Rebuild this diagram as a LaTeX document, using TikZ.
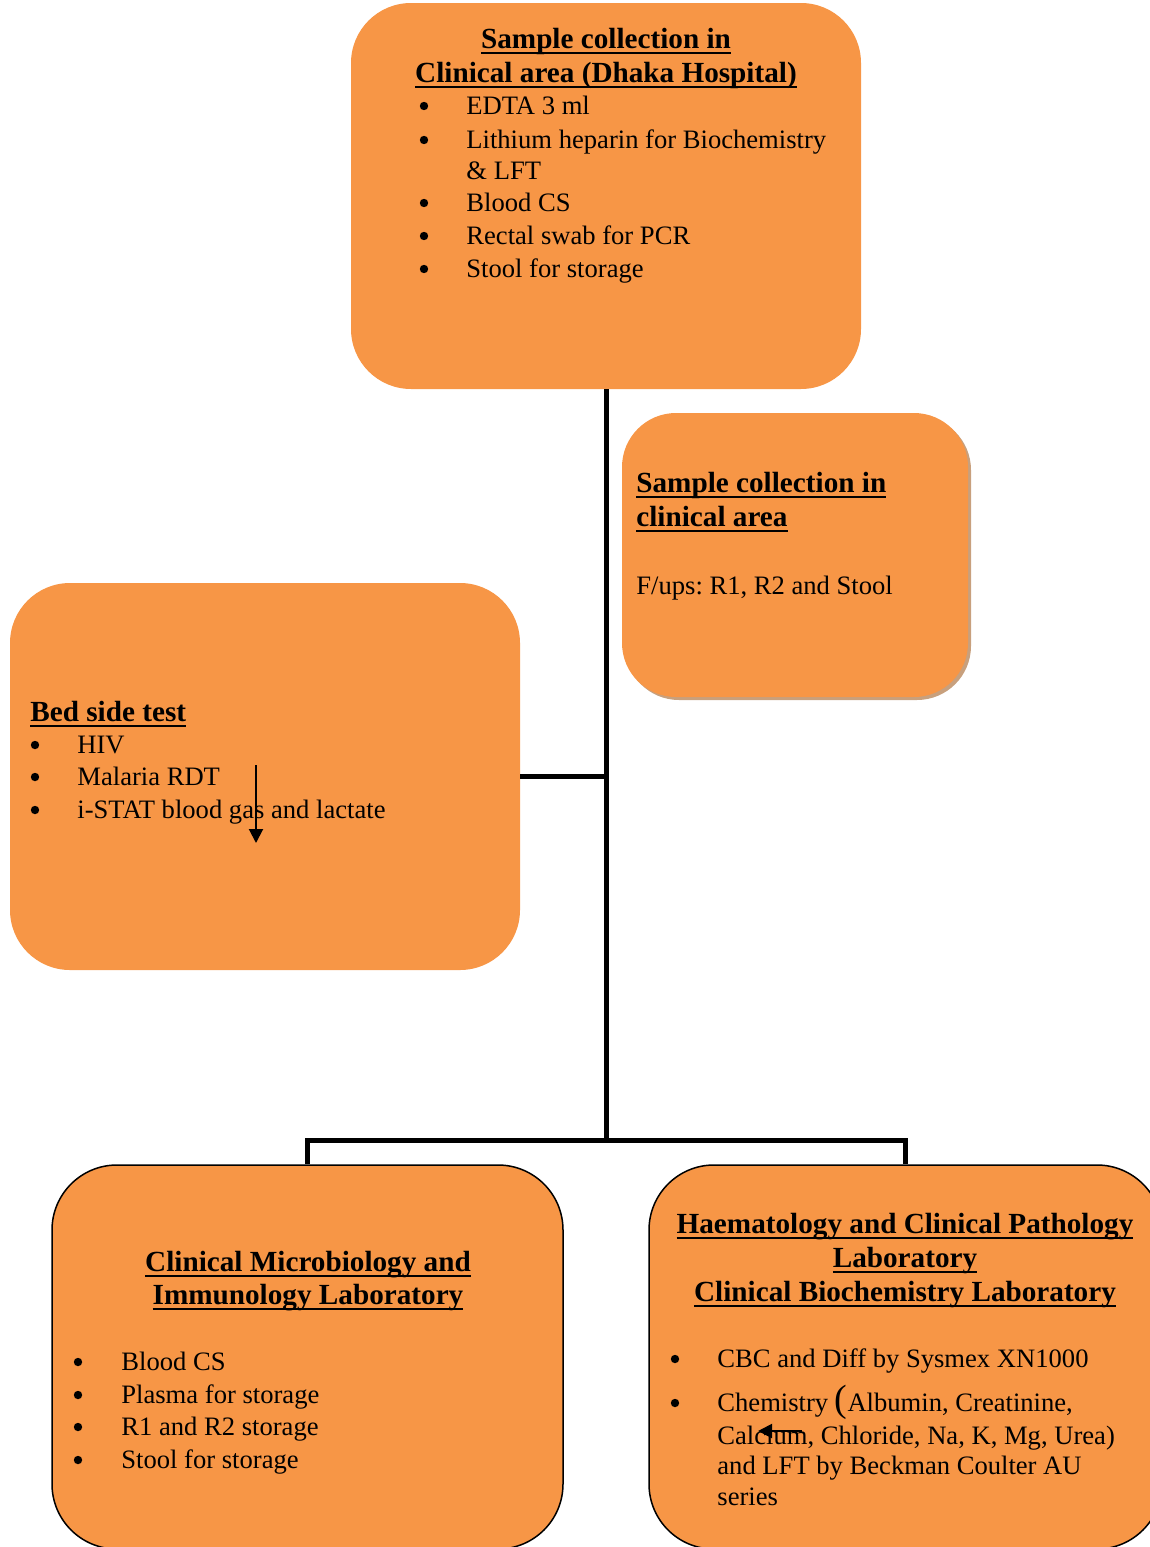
\documentclass[tikz,border=0pt]{standalone}
\usepackage{fontspec}
\setmainfont{Liberation Serif}
\usetikzlibrary{arrows.meta,shadows}
\definecolor{boxorange}{RGB}{247,150,70}
\definecolor{boxshade}{RGB}{200,160,125}
\frenchspacing
% heading text with a heavy underline
\newcommand\headul[1]{\setbox0\hbox{#1}\rlap{\rule[-3pt]{\wd0}{1.2pt}}\box0}

\begin{document}
\begin{tikzpicture}[x=0.5pt,y=-0.5pt,
  panel/.style={fill=boxorange, draw=none, rounded corners=30pt, inner sep=0pt},
  framed/.style={panel, draw=black, line width=0.75pt, rounded corners=32.5pt},
  head/.style={font=\fontsize{14.6}{17}\selectfont\bfseries, anchor=base, inner sep=0pt},
  headwest/.style={head, anchor=base west},
  body/.style={font=\fontsize{13.3}{16}\selectfont, anchor=base west, inner sep=0pt},
  dot/.style={circle, fill=black, minimum size=4.2pt, inner sep=0pt},
  trunk/.style={line width=2.5pt, line join=miter},
  pointer/.style={line width=1pt, -{Triangle[length=7pt,width=7pt]}}]

\clip (0,0) rectangle (1150,1547);

% boxes
\node[panel, minimum width=255pt, minimum height=193pt] (collect) at (606,196) {};
\node[panel, rounded corners=27pt, minimum width=173pt, minimum height=142pt,
      drop shadow={shadow xshift=1.5pt, shadow yshift=-1.5pt, fill=boxshade, opacity=1}] (followup) at (795,555) {};
\node[panel, minimum width=255pt, minimum height=193.5pt] (bedside) at (265,776.5) {};
\node[framed, minimum width=255.5pt, minimum height=192pt] (micro) at (307.5,1357) {};
\node[framed, minimum width=256.5pt, minimum height=192pt] (haem) at (905.5,1357) {};

% connectors
\coordinate (split) at (606,1140);
\draw[trunk] (collect.south) -- (split);
\draw[trunk] (bedside.east) -- (bedside.east -| split);
\draw[trunk] (micro.north) |- (split) -| (haem.north);

% top box text
\node[head] (collect-h1) at (606,48) {\headul{Sample collection in}};
\node[head] (collect-h2) at (606,82) {\headul{Clinical area (Dhaka Hospital)}};
\foreach \y [count=\k] in {114,148,211,244,277}
  \node[dot] (collect-b\k) at (424,\y-8) {};
\node[body] (collect-t1) at (466,114) {EDTA 3 ml};
\node[body] (collect-t2) at (466,148) {Lithium heparin for Biochemistry};
\node[body] (collect-t3) at (466,179) {\& LFT};
\node[body] (collect-t4) at (466,211) {Blood CS};
\node[body] (collect-t5) at (466,244) {Rectal swab for PCR};
\node[body] (collect-t6) at (466,277) {Stool for storage};

% follow-up box text
\node[headwest] (followup-h1) at (636,492) {\headul{Sample collection in}};
\node[headwest] (followup-h2) at (636,526) {\headul{clinical area}};
\node[body] (followup-t1) at (636,594) {F/ups: R1, R2 and Stool};

% bedside box text
\node[headwest] (bedside-h1) at (30,721) {\headul{Bed side test}};
\foreach \y [count=\k] in {753,785,818}
  \node[dot] (bedside-b\k) at (35,\y-8) {};
\node[body] (bedside-t1) at (77,753) {HIV};
\node[body] (bedside-t2) at (77,785) {Malaria RDT};
\node[body] (bedside-t3) at (77,818) {i-STAT blood gas and lactate};
\coordinate (p1s) at (256,765);
\coordinate (p1e) at (256,843);
\draw[pointer] (p1s) -- (p1e);

% microbiology box text
\node[head] (micro-h1) at (308,1271) {\headul{Clinical Microbiology and}};
\node[head] (micro-h2) at (308,1304) {\headul{Immunology Laboratory}};
\foreach \y [count=\k] in {1370,1403,1435,1468}
  \node[dot] (micro-b\k) at (78,\y-8) {};
\node[body] (micro-t1) at (121,1370) {Blood CS};
\node[body] (micro-t2) at (121,1403) {Plasma for storage};
\node[body] (micro-t3) at (121,1435) {R1 and R2 storage};
\node[body] (micro-t4) at (121,1468) {Stool for storage};

% haematology / biochemistry box text
\node[head] (haem-h1) at (905,1233) {\headul{Haematology and Clinical Pathology}};
\node[head] (haem-h2) at (905,1267) {\headul{Laboratory}};
\node[head] (haem-h3) at (905,1301) {\headul{Clinical Biochemistry Laboratory}};
\foreach \y [count=\k] in {1367,1411}
  \node[dot] (haem-b\k) at (675,\y-8) {};
\node[body] (haem-t1) at (717,1367) {CBC and Diff by Sysmex XN1000};
\node[body] (haem-t2) at (717,1411) {Chemistry {\fontsize{19}{19}\selectfont(}Albumin, Creatinine,};
\node[body] (haem-t3) at (717,1444) {Calcium, Chloride, Na, K, Mg, Urea)};
\node[body] (haem-t4) at (717,1474) {and LFT by Beckman Coulter AU};
\node[body] (haem-t5) at (717,1505) {series};
\coordinate (p2s) at (802,1431);
\coordinate (p2e) at (758,1431);
\draw[pointer] (p2s) -- (p2e);
\end{tikzpicture}
\end{document}
